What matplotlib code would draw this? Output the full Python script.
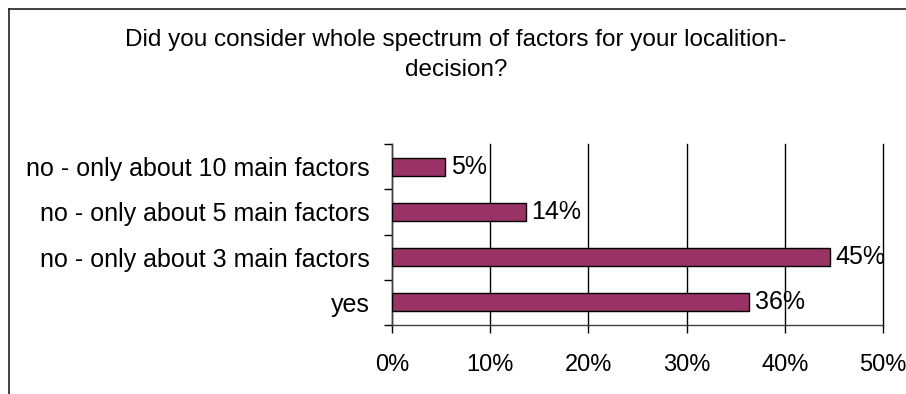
import numpy as np
import matplotlib.pyplot as plt
from matplotlib.lines import Line2D
from matplotlib.ticker import FixedLocator

plt.rcParams['font.family'] = ['Liberation Sans', 'DejaVu Sans']

categories = ["yes",
              "no - only about 3 main factors",
              "no - only about 5 main factors",
              "no - only about 10 main factors"]
shares = [36.4, 44.6, 13.6, 5.4]
x_ticks = [0, 10, 20, 30, 40, 50]
title = "Did you consider whole spectrum of factors for your localition-\ndecision?"

W, H = 906, 394
fig = plt.figure(figsize=(W / 100, H / 100), dpi=100)
ax = fig.add_axes([392 / W, 1 - 325 / H, (883 - 392) / W, (325 - 144) / H])

y = np.arange(len(categories))
ax.barh(y, shares, height=0.4, color='#993366', edgecolor='black', linewidth=1, zorder=3)
for yi, v in zip(y, shares):
    ax.text(v + 0.6, yi, f"{v:.0f}%", va='center', ha='left', fontsize=18, zorder=4)

ax.set_xlim(0, 50)
ax.set_ylim(-0.5, len(categories) - 0.5)

ax.set_xticks(x_ticks)
ax.set_xticklabels([f"{t}%" for t in x_ticks], fontsize=17)
ax.tick_params(axis='x', length=6, width=1, pad=15, direction='out')

ax.set_yticks(y)
ax.set_yticklabels(categories, fontsize=18)
ax.tick_params(axis='y', which='major', length=0, pad=16)
ax.yaxis.set_minor_locator(FixedLocator(np.arange(-0.5, len(categories), 1.0)))
ax.tick_params(axis='y', which='minor', length=6, width=1, direction='out')

ax.grid(axis='x', color='black', linewidth=1, zorder=0)
for gl in ax.get_xgridlines():
    gl.set_clip_on(False)
ax.set_axisbelow(True)
for side in ('top', 'right'):
    ax.spines[side].set_visible(False)
for side in ('left', 'bottom'):
    ax.spines[side].set_color('#404040')
    ax.spines[side].set_linewidth(1)

# outer chart border, clipped by the image edge at right and bottom
fig.add_artist(Line2D([8.5 / W, 1], [1 - 8.5 / H] * 2, color='#202020', linewidth=1.2))
fig.add_artist(Line2D([8.5 / W] * 2, [0, 1 - 8.5 / H], color='#202020', linewidth=1.2))

fig.text(456 / W, 1 - 29 / H, title, ha='center', va='top', fontsize=17.5, linespacing=1.5)

fig.savefig('out.png', dpi=100)
